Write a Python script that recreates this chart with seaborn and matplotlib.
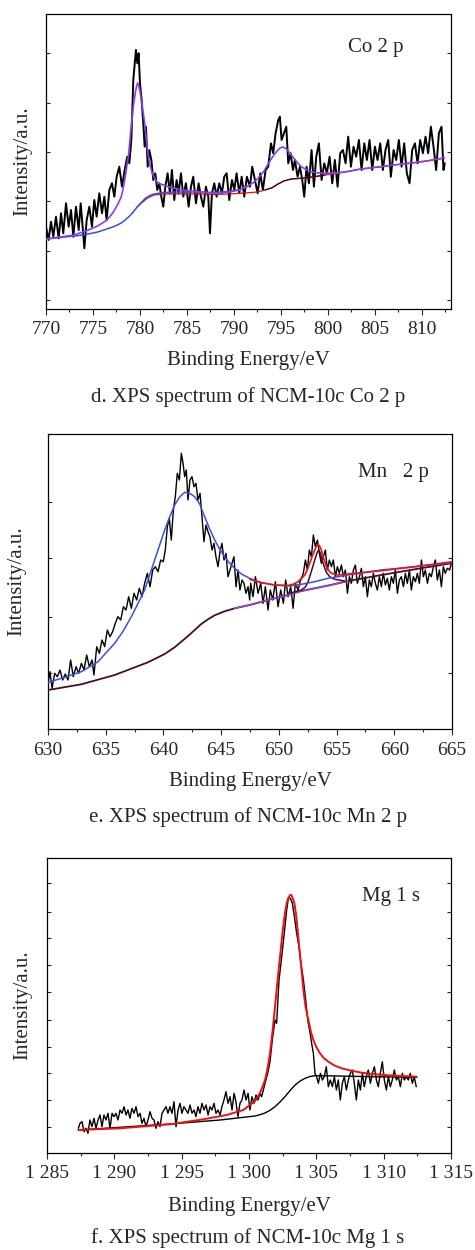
import matplotlib
matplotlib.use("Agg")
import matplotlib.pyplot as plt
import seaborn as sns
import numpy as np
from matplotlib.ticker import MultipleLocator, FuncFormatter

sns.set_theme(style="ticks")
plt.rcParams['font.family'] = ['Liberation Serif', 'DejaVu Serif']
plt.rcParams['axes.linewidth'] = 0.9

# ---------------- Panel d: Co 2p ----------------
co_raw_x = [770.00, 770.28, 770.53, 770.78, 771.06, 771.35, 771.60, 771.84, 772.13, 772.41, 772.66, 772.91,
            773.19, 773.48, 773.69, 773.90, 774.08, 774.33, 774.61, 774.89, 775.14, 775.39, 775.67, 775.96,
            776.21, 776.45, 776.74, 777.02, 777.27, 777.52, 777.80, 778.09, 778.37, 778.65, 778.87, 779.08,
            779.29, 779.47, 779.57, 779.72, 779.86, 780.00, 780.18, 780.35, 780.50, 780.64, 780.82, 780.99,
            781.21, 781.42, 781.63, 781.84, 782.06, 782.27, 782.48, 782.70, 782.94, 783.19, 783.40, 783.65,
            783.90, 784.11, 784.36, 784.61, 784.89, 785.18, 785.43, 785.67, 785.96, 786.24, 786.49, 786.74,
            787.02, 787.27, 787.45, 787.66, 787.91, 788.16, 788.44, 788.72, 788.97, 789.22, 789.50, 789.79,
            790.04, 790.28, 790.57, 790.82, 791.10, 791.38, 791.70, 791.95, 792.23, 792.52, 792.80, 793.08,
            793.37, 793.65, 793.94, 794.18, 794.43, 794.72, 794.89, 795.07, 795.32, 795.57, 795.78, 796.03,
            796.28, 796.49, 796.77, 797.02, 797.27, 797.48, 797.73, 797.98, 798.26, 798.51, 798.76, 799.04,
            799.33, 799.61, 799.89, 800.18, 800.46, 800.74, 801.03, 801.31, 801.60, 801.88, 802.16, 802.45,
            802.73, 803.01, 803.30, 803.58, 803.87, 804.15, 804.43, 804.72, 805.00, 805.28, 805.57, 805.85,
            806.13, 806.42, 806.70, 806.99, 807.27, 807.55, 807.84, 808.12, 808.40, 808.69, 808.97, 809.26,
            809.54, 809.82, 810.11, 810.39, 810.67, 810.96, 811.24, 811.52, 811.81, 812.09, 812.30, 812.44]
co_raw_y = [82.3, 69.0, 87.3, 72.3, 92.3, 70.7, 95.7, 75.7, 105.7, 82.3, 99.0, 72.3,
            102.3, 79.0, 105.7, 82.3, 60.7, 89.0, 102.3, 82.3, 109.0, 92.3, 115.7, 95.7,
            112.3, 89.0, 119.0, 125.7, 112.3, 132.3, 142.3, 122.3, 139.0, 152.3, 145.7, 169.0,
            229.0, 249.0, 259.0, 245.7, 255.7, 225.7, 209.0, 185.7, 162.3, 182.3, 142.3, 159.0,
            149.0, 129.0, 135.7, 119.0, 125.7, 112.3, 102.3, 122.3, 135.7, 115.7, 139.0, 109.0,
            129.0, 115.7, 135.7, 112.3, 125.7, 102.3, 122.3, 132.3, 105.7, 125.7, 112.3, 102.3,
            122.3, 112.3, 75.7, 115.7, 125.7, 112.3, 125.7, 115.7, 132.3, 135.7, 109.0, 129.0,
            119.0, 135.7, 115.7, 132.3, 112.3, 132.3, 122.3, 142.3, 129.0, 115.7, 135.7, 119.0,
            139.0, 142.3, 165.7, 155.7, 175.7, 189.0, 192.3, 169.0, 175.7, 182.3, 145.7, 155.7,
            139.0, 149.0, 132.3, 142.3, 129.0, 112.3, 142.3, 125.7, 159.0, 122.3, 152.3, 165.7,
            129.0, 145.7, 135.7, 152.3, 125.7, 149.0, 122.3, 155.7, 159.0, 145.7, 172.3, 142.3,
            162.3, 152.3, 169.0, 139.0, 165.7, 149.0, 169.0, 139.0, 162.3, 149.0, 165.7, 139.0,
            159.0, 169.0, 132.3, 159.0, 149.0, 169.0, 142.3, 165.7, 135.7, 125.7, 159.0, 165.7,
            145.7, 169.0, 155.7, 172.3, 155.7, 182.3, 162.3, 139.0, 175.7, 182.3, 139.0, 145.7]

co_env_x = [770.0, 771.5, 773.0, 774.5, 775.5, 776.5, 777.1, 777.6, 778.0, 778.2, 778.35, 778.5, 778.65,
            778.8, 779.0, 779.15, 779.3, 779.5, 779.62, 779.75, 779.87, 780.0, 780.2, 780.35, 780.5,
            780.65, 780.8, 781.0, 781.3, 781.6, 781.9, 782.5, 783.1, 784.0,
            785.2, 786.5, 787.7, 788.5, 789.5, 790.5, 791.3, 792.0, 792.6, 793.2, 793.7, 794.1, 794.5,
            794.9, 795.2, 795.6, 796.1, 796.6, 797.2, 797.8, 798.3, 799.0, 799.7, 800.7, 801.8, 803.5,
            805.4, 807.0, 808.9, 810.5, 812.4]
co_env_y = [70, 72, 74, 79, 83, 89, 96, 104, 112, 120, 128, 136, 146,
            155, 176, 190, 203, 216, 222, 226, 223, 218, 205, 196, 186,
            172, 159, 146, 136, 130, 126, 124, 122, 120,
            118, 117, 116, 116, 117, 119, 122, 126, 131, 138, 146, 152, 157,
            161, 162, 160, 154, 148, 142, 139, 137, 136, 136, 136, 137, 140,
            142, 144, 146, 148, 151]

co_comp_x = [770.0, 772.0, 774.0, 775.5, 777.1, 777.6, 778.0, 778.3, 778.6, 778.9, 779.2, 779.45, 779.7,
             780.0, 780.3, 780.55, 780.8, 781.1, 781.5, 782.5, 784.0, 786.0, 787.7, 789.5, 790.5, 791.3]
co_comp_y = [70, 72, 74, 77, 82, 84, 86, 88, 90.5, 93, 96, 99, 102,
             105, 108, 110.5, 112, 113.8, 115, 116.5, 117, 117, 116.5, 117.5, 119, 122]

co_bg_x = [779.7, 780.3, 780.8, 781.5, 782.5, 784.0, 786.0, 787.7, 789.5, 791.2, 792.5, 793.3,
           794.0, 794.7, 795.3, 796.1, 797.5, 798.3, 799.7, 801.8, 803.5, 805.4, 807.0, 808.9,
           810.5, 812.4]
co_bg_y = [102, 107, 111, 114, 115, 115, 115, 114.5, 115, 116, 117, 119,
           121, 125, 128, 130, 131, 132, 134, 137, 140, 142, 144, 146,
           148, 151]

# ---------------- Panel e: Mn 2p ----------------
mn_raw_x = [630.00, 630.17, 630.35, 630.58, 630.81, 631.04, 631.27, 631.50, 631.73, 631.96, 632.19, 632.43,
            632.66, 632.89, 633.12, 633.35, 633.58, 633.81, 633.98, 634.22, 634.45, 634.68, 634.91, 635.14,
            635.37, 635.60, 635.83, 636.06, 636.30, 636.53, 636.76, 636.99, 637.22, 637.45, 637.68, 637.91,
            638.14, 638.37, 638.61, 638.84, 639.07, 639.30, 639.53, 639.76, 639.99, 640.16, 640.34, 640.51,
            640.68, 640.86, 641.03, 641.20, 641.38, 641.55, 641.70, 641.84, 641.98, 642.13, 642.30, 642.47,
            642.65, 642.82, 642.99, 643.17, 643.34, 643.51, 643.69, 643.86, 644.03, 644.21, 644.38, 644.55,
            644.73, 644.90, 645.07, 645.25, 645.42, 645.59, 645.77, 645.94, 646.11, 646.29, 646.46, 646.63,
            646.81, 646.98, 647.15, 647.33, 647.47, 647.56, 647.76, 647.97, 648.20, 648.43, 648.63, 648.83,
            649.06, 649.26, 649.47, 649.70, 649.93, 650.16, 650.39, 650.59, 650.80, 651.03, 651.23, 651.43,
            651.66, 651.89, 652.12, 652.30, 652.47, 652.64, 652.82, 652.99, 653.16, 653.34, 653.51, 653.68,
            653.86, 654.03, 654.20, 654.38, 654.55, 654.72, 654.90, 655.07, 655.24, 655.42, 655.59, 655.76,
            655.94, 656.11, 656.28, 656.46, 656.63, 656.80, 656.98, 657.15, 657.32, 657.49, 657.67, 657.84,
            658.01, 658.19, 658.36, 658.53, 658.71, 658.88, 659.05, 659.23, 659.40, 659.57, 659.75, 659.92,
            660.09, 660.27, 660.44, 660.61, 660.79, 660.96, 661.13, 661.31, 661.48, 661.65, 661.83, 662.00,
            662.17, 662.35, 662.52, 662.69, 662.87, 663.04, 663.21, 663.39, 663.56, 663.73, 663.91, 664.08,
            664.25, 664.42, 664.60, 664.80, 664.94]
mn_raw_y = [45.7, 57.3, 40.7, 55.7, 52.3, 59.0, 49.0, 55.0, 49.0, 69.0, 52.3, 62.3,
            55.7, 65.7, 59.0, 74.0, 62.3, 69.0, 54.0, 82.3, 75.7, 89.0, 82.3, 99.0,
            92.3, 97.3, 105.7, 112.3, 109.0, 122.3, 119.0, 132.3, 120.7, 135.7, 129.0, 140.7,
            132.3, 145.7, 155.7, 142.3, 159.0, 162.3, 157.3, 169.0, 167.3, 179.0, 202.3, 210.7,
            189.0, 219.0, 232.3, 255.7, 249.0, 275.7, 265.7, 252.3, 259.0, 229.0, 249.0, 252.3,
            242.3, 245.7, 229.0, 235.7, 212.3, 187.3, 204.0, 197.3, 192.3, 179.0, 185.7, 172.3,
            162.3, 177.3, 185.7, 169.0, 175.7, 152.3, 159.0, 165.7, 172.3, 142.3, 159.0, 139.0,
            149.0, 145.7, 135.7, 142.3, 129.0, 145.7, 132.3, 152.3, 135.7, 145.7, 125.7, 142.3,
            119.0, 139.0, 129.0, 147.3, 122.3, 139.0, 125.7, 149.0, 132.3, 142.3, 120.7, 145.7,
            139.0, 149.0, 155.7, 169.0, 159.0, 179.0, 172.3, 194.0, 182.3, 189.0, 175.7, 165.7,
            172.3, 179.0, 159.0, 169.0, 162.3, 169.0, 152.3, 162.3, 155.7, 164.0, 152.3, 159.0,
            135.7, 152.3, 145.7, 159.0, 164.0, 145.7, 152.3, 160.7, 142.3, 152.3, 132.3, 149.0,
            142.3, 155.7, 145.7, 139.0, 152.3, 142.3, 155.7, 144.0, 150.7, 139.0, 152.3, 145.7,
            159.0, 135.7, 149.0, 152.3, 142.3, 155.7, 145.7, 159.0, 139.0, 152.3, 147.3, 155.7,
            145.7, 169.0, 152.3, 159.0, 145.7, 155.7, 152.3, 162.3, 169.0, 149.0, 159.0, 142.3,
            162.3, 155.7, 160.7, 159.0, 165.7]

mn_comp1_x = [630.00, 631.44, 632.89, 634.33, 635.78, 636.50, 637.22, 637.80, 638.37, 639.24, 640.11,
              640.54, 640.97, 641.41, 641.84, 642.27, 642.71, 643.14, 643.57, 644.01, 644.44, 644.87,
              645.30, 645.74, 646.17, 646.75, 647.47, 648.49, 649.64, 650.80, 651.95, 653.11, 654.26,
              656.0, 658.88, 661.77, 664.94]
mn_comp1_y = [46.7, 51.7, 57.3, 67.3, 85.7, 97.7, 112.3, 125.7, 139, 169, 199,
              212, 224, 232, 236.7, 235.7, 232.3, 225, 212.3, 200, 189, 180,
              172.3, 165.7, 160.7, 155, 150.7, 146.3, 144, 143, 144.7, 147.3, 150.7,
              154, 159, 162.3, 167.3]

mn_env_x = [647.47, 648.49, 649.64, 650.80, 651.3, 651.66, 652.0, 652.24, 652.45, 652.67, 652.9, 653.11,
            653.25, 653.39, 653.53, 653.68, 653.9, 654.12, 654.35, 654.55, 655.13, 656.0, 658.88,
            661.77, 664.94]
mn_env_y = [149.7, 146.3, 144, 143.5, 145, 147.3, 151, 154, 159, 165.7, 173, 179,
            183, 184.7, 183, 179, 170, 162.3, 158, 155.7, 154, 155, 158.3,
            162.3, 166.3]

mn_bg_x = [630.00, 632.89, 635.78, 638.66, 640.11, 640.97, 641.55, 642.13, 642.71, 643.28, 643.86,
           644.44, 645.30, 646.17, 647.47, 649.06, 650.80, 651.95, 653.11, 654.5, 656.0, 658.88,
           661.77, 664.94]
mn_bg_y = [39, 44.7, 54, 66.7, 75, 81.7, 87.3, 93, 99, 105, 109.7,
           113.7, 117.7, 120.7, 124, 129, 134, 138, 140.7, 144, 148, 154,
           159.7, 165.7]

mn_comp2_x = [651.0, 651.95, 652.3, 652.53, 652.8, 653.11, 653.3, 653.45, 653.6, 653.83, 654.1, 654.4,
              654.84, 655.7]
mn_comp2_y = [136, 139, 142, 147.3, 157, 169, 176, 179, 176, 165.7, 157, 152.3,
              149.7, 148]

# ---------------- Panel f: Mg 1s ----------------
mg_raw_x = [1287.33, 1287.45, 1287.60, 1287.75, 1287.90, 1288.04, 1288.19, 1288.34, 1288.49, 1288.64,
            1288.79, 1288.94, 1289.08, 1289.23, 1289.38, 1289.53, 1289.68, 1289.83, 1289.98, 1290.12,
            1290.27, 1290.42, 1290.57, 1290.72, 1290.87, 1291.01, 1291.16, 1291.31, 1291.46, 1291.61,
            1291.76, 1291.91, 1292.05, 1292.20, 1292.35, 1292.50, 1292.65, 1292.80, 1292.95, 1293.09,
            1293.24, 1293.39, 1293.54, 1293.69, 1293.84, 1293.98, 1294.13, 1294.28, 1294.43, 1294.58,
            1294.73, 1294.88, 1295.02, 1295.17, 1295.32, 1295.47, 1295.62, 1295.77, 1295.92, 1296.06,
            1296.21, 1296.36, 1296.51, 1296.66, 1296.81, 1296.96, 1297.10, 1297.25, 1297.40, 1297.55,
            1297.70, 1297.85, 1297.99, 1298.14, 1298.29, 1298.44, 1298.59, 1298.74, 1298.89, 1299.03,
            1299.18, 1299.33, 1299.48, 1299.63, 1299.78, 1299.93, 1300.07, 1300.22, 1300.37, 1300.52,
            1300.67, 1300.82, 1300.94, 1301.19, 1301.39, 1301.56, 1301.73, 1301.93, 1302.05, 1302.23,
            1302.43, 1302.62, 1302.80, 1302.92, 1303.07, 1303.22, 1303.37, 1303.54, 1303.71, 1303.86,
            1304.04, 1304.21, 1304.36, 1304.50, 1304.65, 1304.78, 1304.90, 1305.02, 1305.15, 1305.30,
            1305.45, 1305.59, 1305.74, 1305.89, 1306.04, 1306.19, 1306.34, 1306.49, 1306.63, 1306.78,
            1306.93, 1307.08, 1307.23, 1307.38, 1307.52, 1307.67, 1307.82, 1307.97, 1308.12, 1308.27,
            1308.42, 1308.56, 1308.71, 1308.86, 1309.01, 1309.16, 1309.31, 1309.46, 1309.60, 1309.75,
            1309.90, 1310.05, 1310.20, 1310.35, 1310.49, 1310.64, 1310.79, 1310.94, 1311.09, 1311.24,
            1311.39, 1311.53, 1311.68, 1311.83, 1311.98, 1312.13, 1312.27, 1312.42]
mg_raw_y = [24.7, 29.7, 31.3, 21.3, 24.7, 19.7, 33.0, 26.3, 34.7, 24.7,
            33.0, 38.0, 26.3, 38.0, 33.0, 39.7, 24.7, 39.7, 36.3, 39.7,
            33.0, 43.0, 39.7, 46.3, 38.0, 43.0, 34.7, 44.7, 39.7, 46.3,
            36.3, 39.7, 29.7, 34.7, 26.3, 33.0, 41.3, 34.7, 33.0, 24.7,
            31.3, 26.3, 39.7, 43.0, 46.3, 39.7, 46.3, 39.7, 51.3, 26.3,
            43.0, 49.7, 39.7, 46.3, 43.0, 39.7, 48.0, 39.7, 43.0, 36.3,
            46.3, 39.7, 49.7, 43.0, 48.0, 38.0, 46.3, 43.0, 49.7, 39.7,
            43.0, 38.0, 46.3, 53.0, 61.3, 49.7, 56.3, 43.0, 59.7, 51.3,
            36.3, 49.7, 53.0, 63.0, 53.0, 59.7, 43.0, 56.3, 49.7, 58.0,
            53.0, 59.7, 56.3, 69.7, 79.7, 91.3, 113.0, 133.0, 129.7, 173.0,
            196.3, 219.7, 243.0, 254.7, 254.7, 249.7, 236.3, 219.7, 206.3, 189.7,
            173.0, 153.0, 133.0, 123.0, 109.7, 99.7, 79.7, 76.3, 69.7, 79.7,
            73.0, 76.3, 86.3, 66.3, 73.0, 66.3, 76.3, 63.0, 73.0, 53.0,
            69.7, 76.3, 63.0, 73.0, 79.7, 83.0, 69.7, 53.0, 73.0, 63.0,
            79.7, 66.3, 76.3, 83.0, 69.7, 79.7, 86.3, 73.0, 66.3, 79.7,
            91.3, 73.0, 63.0, 76.3, 66.3, 73.0, 83.0, 73.0, 76.3, 66.3,
            79.7, 73.0, 76.3, 73.0, 79.7, 69.7, 76.3, 66.3]

mg_fit_x = [1287.33, 1290.42, 1294.13, 1296.61, 1298.34, 1299.58, 1300.45, 1300.82, 1301.19, 1301.4,
            1301.56, 1301.75, 1301.93, 1302.1, 1302.3, 1302.5, 1302.67, 1302.8, 1302.92, 1303.05,
            1303.15, 1303.27, 1303.37, 1303.5, 1303.66, 1303.85, 1304.04, 1304.2, 1304.41, 1304.6,
            1304.78, 1305.0, 1305.27, 1305.55, 1305.89, 1306.35, 1306.88, 1307.6, 1308.37, 1309.3,
            1310.35, 1311.4, 1312.45]
mg_fit_y = [23, 24.7, 28.7, 33.7, 38, 43, 52, 60, 73, 86,
            100, 122, 146, 170, 196, 222, 240, 250, 255, 258,
            258, 254, 249.7, 238, 216, 190, 163, 146, 133, 121,
            113, 106, 99.7, 95, 91.3, 87.5, 84.7, 82.3, 80.3, 78.8,
            77.7, 77, 76.3]

mg_bg_x = [1287.33, 1290.42, 1294.13, 1297.85, 1300.45, 1300.82, 1301.19, 1301.56, 1301.93, 1302.3,
           1302.67, 1303.05, 1303.42, 1303.8, 1304.16, 1304.53, 1304.9, 1305.5, 1306.63, 1309.11,
           1312.45]
mg_bg_y = [23, 25.7, 29, 33, 37, 38.3, 40, 42.7, 46.3, 51,
           56.3, 62.5, 68, 72, 74.7, 76.5, 77.3, 77.3, 77, 76.3,
           75.7]

# ---------------- figure ----------------
W, H = 475, 1250
fig = plt.figure(figsize=(W / 100, H / 100), dpi=100)


def add_axes(left, top, width_px, height_px):
    return fig.add_axes([left / W, 1 - (top + height_px) / H, width_px / W, height_px / H])


def line(ax, x, y, color, lw, z):
    sns.lineplot(x=x, y=y, ax=ax, color=color, linewidth=lw, sort=False,
                 estimator=None, zorder=z, legend=False)


def style(ax, xlim, yticks, label, label_xy, ylab_x, xlab_y, fmt=None):
    ax.set_xlim(*xlim)
    ax.set_ylim(0, 295)
    ax.xaxis.set_major_locator(MultipleLocator(5))
    ax.xaxis.set_minor_locator(MultipleLocator(2.5))
    if fmt is not None:
        ax.xaxis.set_major_formatter(FuncFormatter(fmt))
    ax.set_yticks(yticks)
    ax.set_yticklabels([])
    ax.tick_params(axis='x', which='major', direction='out', length=4, width=0.8,
                   labelsize=14, pad=5, top=False)
    ax.tick_params(axis='x', which='minor', direction='out', length=2.5, width=0.8, top=False)
    ax.tick_params(axis='y', which='major', direction='in', length=3, width=0.8,
                   left=True, right=True, labelleft=False)
    for s in ax.spines.values():
        s.set_visible(True)
        s.set_color('black')
        s.set_linewidth(0.9)
    ax.set_xlabel('Binding Energy/eV', fontsize=15)
    ax.xaxis.label.set_va('center')
    ax.xaxis.set_label_coords(0.5, xlab_y)
    ax.set_ylabel('Intensity/a.u.', fontsize=15)
    ax.yaxis.label.set_va('center')
    ax.yaxis.set_label_coords(ylab_x, 0.5)
    ax.text(label_xy[0], label_xy[1], label, transform=ax.transAxes, fontsize=15,
            ha='left', va='center')
    ax.grid(False)
    ax.set_facecolor('white')


# d
ax_d = add_axes(46, 14, 405, 295)
line(ax_d, co_raw_x, co_raw_y, 'black', 1.4, 2)
line(ax_d, co_bg_x, co_bg_y, '#e01010', 0.9, 3)
seg = [(x, y) for x, y in zip(co_bg_x, co_bg_y) if 793.0 <= x <= 801.0]
line(ax_d, [p[0] for p in seg], [p[1] for p in seg], '#3a0808', 0.9, 4)
line(ax_d, co_comp_x, co_comp_y, '#3050e8', 1.1, 5)
line(ax_d, co_env_x, co_env_y, '#8a3cf0', 1.2, 6)
style(ax_d, (770, 813.1), [9, 58, 108, 157, 206, 256], 'Co 2 p', (0.746, 0.888), -0.057, -0.173)

# e
ax_e = add_axes(48, 434, 404, 295)
line(ax_e, mn_raw_x, mn_raw_y, 'black', 1.0, 2)
line(ax_e, mn_bg_x, mn_bg_y, '#4a0a2a', 1.3, 3)
seg = [(x, y) for x, y in zip(mn_bg_x, mn_bg_y) if 646.0 <= x <= 657.0]
line(ax_e, [p[0] for p in seg], [p[1] for p in seg], '#9a44d6', 1.1, 4)
line(ax_e, mn_comp2_x, mn_comp2_y, '#4a0a2a', 1.1, 5)
line(ax_e, mn_comp1_x, mn_comp1_y, '#3a4fe6', 1.1, 6)
line(ax_e, mn_env_x, mn_env_y, '#f01010', 1.2, 7)
style(ax_e, (630, 665), [56, 112, 171, 227], 'Mn   2 p', (0.767, 0.871), -0.077, -0.179)

# f
ax_f = add_axes(47, 858, 404, 295)
line(ax_f, mg_raw_x, mg_raw_y, 'black', 1.0, 2)
line(ax_f, mg_bg_x, mg_bg_y, 'black', 1.0, 3)
line(ax_f, mg_fit_x, mg_fit_y, '#f01010', 1.4, 4)
style(ax_f, (1285, 1315), [26, 53, 80, 106, 133, 161, 188, 215, 241, 270], 'Mg 1 s', (0.78, 0.868),
      -0.059, -0.182, fmt=lambda v, p: f"{int(round(v)) // 1000} {int(round(v)) % 1000:03d}")

fig.text(0.522, 1 - 397 / H, 'd. XPS spectrum of NCM-10c Co 2 p', ha='center', va='center', fontsize=15)
fig.text(0.522, 1 - 817 / H, 'e. XPS spectrum of NCM-10c Mn 2 p', ha='center', va='center', fontsize=15)
fig.text(0.522, 1 - 1238 / H, 'f. XPS spectrum of NCM-10c Mg 1 s', ha='center', va='center', fontsize=15)

fig.savefig('out.png', dpi=100, facecolor='white')
